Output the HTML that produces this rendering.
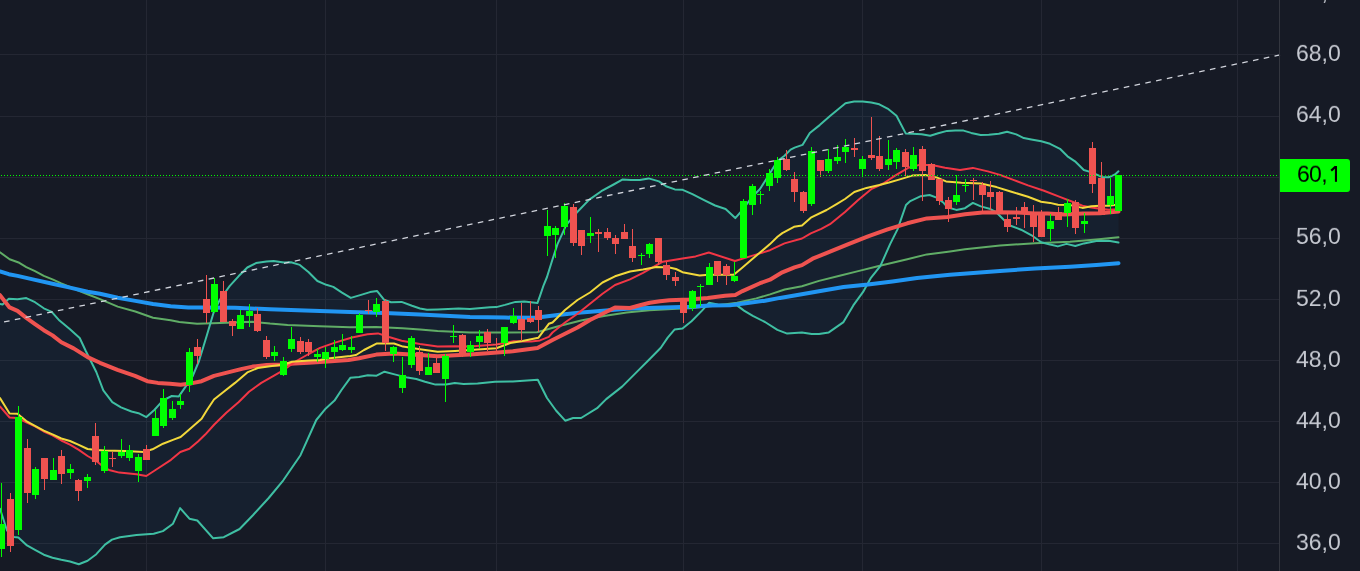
<!DOCTYPE html>
<html><head><meta charset="utf-8"><style>
html,body{margin:0;padding:0;background:#161a25;}
#c{position:relative;width:1360px;height:571px;overflow:hidden;background:#161a25;font-family:"Liberation Sans",sans-serif;}
.lb{will-change:transform;transform:scale(1,0.95);transform-origin:0 0;position:absolute;left:1296px;width:60px;height:26px;line-height:26px;font-size:23px;color:#c6c9d1;white-space:nowrap;}
#pl{position:absolute;left:1280px;top:159px;width:70px;height:33px;background:#00ff00;border-radius:0 3px 3px 0;}
#pl span{will-change:transform;transform:scale(1,0.95);transform-origin:0 0;position:absolute;left:16.8px;top:-0.2px;line-height:33px;font-size:23px;letter-spacing:-0.7px;color:#000;}
</style></head><body><div id="c">
<svg width="1360" height="571" viewBox="0 0 1360 571" style="position:absolute;left:0;top:0">
<rect width="1360" height="571" fill="#161a25"/>
<rect x="0" y="54" width="1279" height="1" fill="#242733"/>
<rect x="0" y="116" width="1279" height="1" fill="#242733"/>
<rect x="0" y="177" width="1279" height="1" fill="#242733"/>
<rect x="0" y="238" width="1279" height="1" fill="#242733"/>
<rect x="0" y="299" width="1279" height="1" fill="#242733"/>
<rect x="0" y="360" width="1279" height="1" fill="#242733"/>
<rect x="0" y="421" width="1279" height="1" fill="#242733"/>
<rect x="0" y="482" width="1279" height="1" fill="#242733"/>
<rect x="0" y="543" width="1279" height="1" fill="#242733"/>
<rect x="146" y="0" width="1" height="571" fill="#242733"/>
<rect x="325" y="0" width="1" height="571" fill="#242733"/>
<rect x="496" y="0" width="1" height="571" fill="#242733"/>
<rect x="683" y="0" width="1" height="571" fill="#242733"/>
<rect x="862" y="0" width="1" height="571" fill="#242733"/>
<rect x="1041" y="0" width="1" height="571" fill="#242733"/>
<rect x="1237" y="0" width="1" height="571" fill="#242733"/>
<polygon points="0.0,303.9 2.6,304.4 8.8,298.7 17.5,299.2 26.3,298.1 35.0,302.2 43.8,308.3 51.7,311.8 59.5,320.6 70.0,329.3 79.7,338.0 85.8,351.0 96.3,372.0 103.3,390.4 112.3,402.2 121.0,407.4 131.5,411.5 138.5,413.2 146.4,417.1 154.3,410.0 163.0,400.4 171.8,396.0 178.8,396.4 185.8,386.4 192.8,375.9 199.0,361.0 206.8,335.5 213.9,311.5 220.0,299.5 229.8,285.9 238.5,276.3 247.3,267.5 256.0,263.1 266.5,261.4 273.6,260.9 284.0,262.6 291.0,262.3 299.8,264.9 308.7,272.2 317.4,281.0 326.3,284.8 333.3,286.9 342.0,292.7 350.8,297.9 361.0,294.9 370.0,292.1 377.0,290.9 384.0,299.7 391.0,302.3 401.6,301.9 412.0,305.8 420.0,308.5 427.0,309.8 437.6,309.4 448.0,308.9 458.6,308.5 470.0,309.0 490.0,307.3 496.3,307.1 505.0,304.9 515.5,301.9 524.3,301.4 537.4,303.1 540.0,295.8 543.6,285.3 547.0,277.0 552.3,260.0 557.5,244.1 566.3,224.8 576.8,212.5 589.0,199.9 601.3,191.2 613.6,184.5 622.3,179.6 631.0,180.1 639.8,180.1 648.6,178.4 659.0,181.4 666.0,186.3 674.8,189.4 682.7,189.8 692.4,194.1 704.6,200.3 715.1,205.5 725.6,209.0 735.3,218.1 742.5,210.0 751.3,197.8 760.0,189.0 768.8,175.0 777.5,161.0 784.5,155.8 790.6,149.6 794.6,147.6 802.5,144.9 809.8,133.0 819.7,125.1 830.3,115.8 838.2,109.2 845.5,103.2 854.1,101.6 862.7,101.5 871.3,102.6 879.3,104.3 888.5,109.2 896.5,115.8 905.7,133.4 912.3,133.7 921.6,134.3 930.2,135.7 938.2,133.2 947.1,130.9 955.3,130.5 963.5,130.6 971.2,132.9 980.6,135.0 988.8,134.7 998.8,133.8 1007.1,131.8 1016.3,134.4 1023.8,138.1 1031.3,139.4 1041.3,141.3 1050.0,143.8 1060.0,148.8 1067.5,156.3 1075.0,161.3 1083.8,170.0 1090.0,171.9 1096.3,174.4 1102.5,177.3 1108.8,177.3 1115.0,174.4 1118.5,171.3 1118.5,242.5 1108.6,240.8 1096.3,241.1 1084.0,243.4 1075.3,246.0 1066.5,243.9 1057.8,246.4 1049.0,244.3 1041.2,242.2 1031.6,235.3 1021.0,229.7 1010.6,225.7 1004.0,220.0 996.5,212.5 989.5,208.7 980.8,206.4 972.9,202.9 965.0,208.2 956.3,209.9 947.5,207.3 943.6,202.8 936.6,197.6 929.6,195.0 920.8,196.2 910.3,201.1 906.0,205.0 897.5,229.4 890.1,244.1 880.3,266.2 870.5,278.4 863.1,291.9 853.3,305.4 843.5,322.1 828.8,332.4 819.0,334.1 811.7,334.1 801.9,332.4 787.2,333.6 777.4,329.9 765.0,322.0 752.8,315.9 744.0,310.6 737.0,305.4 717.8,304.5 709.0,302.8 702.0,310.6 691.5,321.2 682.5,328.5 674.5,329.6 667.7,337.6 660.8,347.8 649.5,359.2 638.1,370.6 622.1,386.6 606.2,399.1 597.1,408.2 581.1,418.0 573.1,418.0 565.2,420.7 556.0,410.5 547.0,398.0 537.8,379.7 512.8,381.5 495.0,381.7 477.6,383.4 463.6,383.9 454.8,383.1 446.0,384.6 435.5,384.6 425.0,381.7 416.3,379.0 407.5,377.6 395.5,374.6 384.5,371.7 376.6,375.7 367.8,375.2 359.0,376.9 350.3,377.8 341.5,390.0 334.5,400.6 325.8,408.4 316.3,420.0 300.5,455.2 283.3,480.3 268.7,498.0 252.9,515.2 239.6,529.0 223.8,537.2 213.2,538.3 197.3,520.5 189.4,518.7 180.1,508.1 173.0,523.7 162.9,531.1 153.7,533.8 136.5,535.1 120.0,537.2 112.0,539.6 105.0,544.6 96.3,554.2 87.6,560.7 78.8,564.3 70.0,561.5 61.3,559.8 52.5,557.7 43.8,554.7 35.0,549.8 27.0,545.4 18.4,537.5 14.0,537.0 7.0,530.5 0.0,508.7" fill="rgba(33,150,243,0.05)"/>
<polyline points="0.0,252.3 9.6,259.3 19.3,262.8 26.3,267.1 35.0,271.2 43.8,275.9 52.5,279.4 61.3,283.4 70.0,286.9 78.8,290.8 87.6,294.3 100.0,299.1 117.7,306.6 135.3,311.5 153.0,317.7 170.6,320.3 179.4,322.1 197.1,323.8 220.0,323.0 252.5,321.8 270.0,323.6 287.6,325.0 320.0,326.2 350.0,327.3 376.3,326.9 402.5,328.2 420.0,329.4 437.6,331.1 470.0,332.5 505.0,332.4 537.0,332.3 558.3,326.2 581.1,320.5 603.9,315.9 626.7,312.5 649.5,310.3 676.8,308.7 690.0,308.2 712.5,305.9 737.0,302.8 756.3,298.4 770.0,294.4 784.7,289.5 801.9,286.3 819.0,280.9 838.6,276.0 858.2,271.1 877.8,266.2 907.3,259.3 926.9,254.4 950.0,251.5 965.0,249.3 1000.0,245.5 1035.0,243.3 1070.0,241.7 1096.3,239.4 1118.5,237.3" fill="none" stroke="#60ad66" stroke-width="2" stroke-linejoin="round" stroke-linecap="round" opacity="1"/>
<polyline points="0.0,303.9 2.6,304.4 8.8,298.7 17.5,299.2 26.3,298.1 35.0,302.2 43.8,308.3 51.7,311.8 59.5,320.6 70.0,329.3 79.7,338.0 85.8,351.0 96.3,372.0 103.3,390.4 112.3,402.2 121.0,407.4 131.5,411.5 138.5,413.2 146.4,417.1 154.3,410.0 163.0,400.4 171.8,396.0 178.8,396.4 185.8,386.4 192.8,375.9 199.0,361.0 206.8,335.5 213.9,311.5 220.0,299.5 229.8,285.9 238.5,276.3 247.3,267.5 256.0,263.1 266.5,261.4 273.6,260.9 284.0,262.6 291.0,262.3 299.8,264.9 308.7,272.2 317.4,281.0 326.3,284.8 333.3,286.9 342.0,292.7 350.8,297.9 361.0,294.9 370.0,292.1 377.0,290.9 384.0,299.7 391.0,302.3 401.6,301.9 412.0,305.8 420.0,308.5 427.0,309.8 437.6,309.4 448.0,308.9 458.6,308.5 470.0,309.0 490.0,307.3 496.3,307.1 505.0,304.9 515.5,301.9 524.3,301.4 537.4,303.1 540.0,295.8 543.6,285.3 547.0,277.0 552.3,260.0 557.5,244.1 566.3,224.8 576.8,212.5 589.0,199.9 601.3,191.2 613.6,184.5 622.3,179.6 631.0,180.1 639.8,180.1 648.6,178.4 659.0,181.4 666.0,186.3 674.8,189.4 682.7,189.8 692.4,194.1 704.6,200.3 715.1,205.5 725.6,209.0 735.3,218.1 742.5,210.0 751.3,197.8 760.0,189.0 768.8,175.0 777.5,161.0 784.5,155.8 790.6,149.6 794.6,147.6 802.5,144.9 809.8,133.0 819.7,125.1 830.3,115.8 838.2,109.2 845.5,103.2 854.1,101.6 862.7,101.5 871.3,102.6 879.3,104.3 888.5,109.2 896.5,115.8 905.7,133.4 912.3,133.7 921.6,134.3 930.2,135.7 938.2,133.2 947.1,130.9 955.3,130.5 963.5,130.6 971.2,132.9 980.6,135.0 988.8,134.7 998.8,133.8 1007.1,131.8 1016.3,134.4 1023.8,138.1 1031.3,139.4 1041.3,141.3 1050.0,143.8 1060.0,148.8 1067.5,156.3 1075.0,161.3 1083.8,170.0 1090.0,171.9 1096.3,174.4 1102.5,177.3 1108.8,177.3 1115.0,174.4 1118.5,171.3" fill="none" stroke="#3fbfa3" stroke-width="2" stroke-linejoin="round" stroke-linecap="round" opacity="1"/>
<polyline points="0.0,508.7 7.0,530.5 14.0,537.0 18.4,537.5 27.0,545.4 35.0,549.8 43.8,554.7 52.5,557.7 61.3,559.8 70.0,561.5 78.8,564.3 87.6,560.7 96.3,554.2 105.0,544.6 112.0,539.6 120.0,537.2 136.5,535.1 153.7,533.8 162.9,531.1 173.0,523.7 180.1,508.1 189.4,518.7 197.3,520.5 213.2,538.3 223.8,537.2 239.6,529.0 252.9,515.2 268.7,498.0 283.3,480.3 300.5,455.2 316.3,420.0 325.8,408.4 334.5,400.6 341.5,390.0 350.3,377.8 359.0,376.9 367.8,375.2 376.6,375.7 384.5,371.7 395.5,374.6 407.5,377.6 416.3,379.0 425.0,381.7 435.5,384.6 446.0,384.6 454.8,383.1 463.6,383.9 477.6,383.4 495.0,381.7 512.8,381.5 537.8,379.7 547.0,398.0 556.0,410.5 565.2,420.7 573.1,418.0 581.1,418.0 597.1,408.2 606.2,399.1 622.1,386.6 638.1,370.6 649.5,359.2 660.8,347.8 667.7,337.6 674.5,329.6 682.5,328.5 691.5,321.2 702.0,310.6 709.0,302.8 717.8,304.5 737.0,305.4 744.0,310.6 752.8,315.9 765.0,322.0 777.4,329.9 787.2,333.6 801.9,332.4 811.7,334.1 819.0,334.1 828.8,332.4 843.5,322.1 853.3,305.4 863.1,291.9 870.5,278.4 880.3,266.2 890.1,244.1 897.5,229.4 906.0,205.0 910.3,201.1 920.8,196.2 929.6,195.0 936.6,197.6 943.6,202.8 947.5,207.3 956.3,209.9 965.0,208.2 972.9,202.9 980.8,206.4 989.5,208.7 996.5,212.5 1004.0,220.0 1010.6,225.7 1021.0,229.7 1031.6,235.3 1041.2,242.2 1049.0,244.3 1057.8,246.4 1066.5,243.9 1075.3,246.0 1084.0,243.4 1096.3,241.1 1108.6,240.8 1118.5,242.5" fill="none" stroke="#3fbfa3" stroke-width="2" stroke-linejoin="round" stroke-linecap="round" opacity="1"/>
<polyline points="0.0,271.5 8.8,274.2 17.5,275.9 35.0,279.9 52.5,283.8 70.0,287.6 87.6,291.7 100.0,293.8 117.7,297.8 135.3,300.9 153.0,304.0 170.6,306.2 188.3,307.5 200.0,307.6 235.0,307.8 270.0,309.2 305.0,310.4 320.0,311.1 350.0,312.0 385.0,312.9 420.0,314.6 470.0,316.9 505.0,317.6 535.6,317.8 557.6,315.0 581.1,312.5 600.0,311.0 626.7,308.7 655.0,307.8 690.0,306.7 710.0,305.5 730.0,305.2 747.6,303.1 765.0,300.7 780.0,297.9 794.5,295.6 819.0,291.2 843.5,287.0 868.0,284.6 892.5,281.4 917.0,277.9 950.0,274.8 1000.0,270.9 1035.0,268.5 1070.0,266.7 1096.3,265.0 1118.5,263.2" fill="none" stroke="#2196f3" stroke-width="4" stroke-linejoin="round" stroke-linecap="round" opacity="1"/>
<polyline points="0.0,295.2 9.6,307.4 17.5,310.9 26.3,317.9 35.0,324.1 43.8,330.2 52.5,335.4 61.3,342.3 73.6,348.4 87.6,357.1 100.0,362.8 117.5,369.8 135.0,375.9 147.3,381.2 157.8,382.9 170.0,383.8 180.6,384.7 191.0,383.4 201.6,381.2 214.0,375.9 228.0,372.4 242.0,368.9 252.5,366.6 266.5,364.9 280.6,364.5 294.6,363.4 308.6,362.8 327.5,361.4 348.5,360.0 359.0,358.2 376.3,354.6 393.8,353.6 420.0,355.0 437.6,356.2 455.0,355.3 470.0,354.4 487.5,353.2 512.8,351.3 537.5,348.0 552.5,340.0 565.0,333.8 577.5,327.5 590.0,320.0 602.5,313.8 615.0,307.5 630.0,308.0 640.0,305.3 649.7,302.8 660.0,301.3 669.4,300.3 689.0,299.4 707.6,297.9 725.0,295.7 735.3,294.9 742.5,291.1 760.0,283.2 770.0,279.7 782.3,272.3 794.5,267.4 802.0,265.1 812.6,258.7 830.0,251.7 848.4,244.1 868.0,236.3 887.6,229.4 907.3,223.3 926.9,218.4 947.5,216.9 965.0,214.3 982.5,212.5 1000.0,212.2 1017.6,212.5 1035.0,213.4 1047.5,213.6 1065.0,214.4 1082.5,213.6 1100.0,213.2 1118.5,211.5" fill="none" stroke="#ef5350" stroke-width="4" stroke-linejoin="round" stroke-linecap="round" opacity="1"/>
<polyline points="0.0,406.5 9.6,417.5 17.5,418.0 26.3,422.4 35.0,426.3 43.8,431.5 52.5,435.3 61.3,440.5 70.0,444.7 78.8,449.9 87.6,456.0 96.3,461.0 105.0,468.0 110.0,470.3 119.3,472.6 136.5,474.2 146.3,476.0 157.8,468.5 171.0,459.8 180.3,452.0 189.4,448.7 198.0,441.4 205.2,434.6 214.3,424.5 226.3,412.7 238.5,402.2 249.0,391.7 261.3,382.9 273.6,375.9 284.0,369.8 296.3,361.0 308.6,354.0 320.0,347.9 335.0,342.6 352.0,337.5 367.5,334.3 378.0,333.4 389.0,337.0 401.6,340.8 420.0,344.0 437.6,346.5 455.0,346.2 470.0,346.5 496.3,344.4 513.8,341.3 531.3,341.6 540.0,340.4 548.8,336.9 552.5,332.5 565.0,322.5 577.5,313.8 590.0,303.8 602.5,293.8 615.0,285.0 630.0,279.4 643.0,272.8 662.8,261.7 682.5,258.4 695.6,256.4 708.8,252.5 735.0,261.0 750.0,256.4 760.0,253.4 770.0,250.2 784.5,243.4 802.0,238.5 810.8,233.3 821.3,228.9 830.0,224.2 845.0,211.9 858.2,200.0 871.8,188.8 883.3,183.5 895.1,175.6 908.2,167.8 918.7,165.1 931.9,165.1 945.0,167.8 960.0,170.0 972.9,167.9 987.8,171.4 1000.0,174.9 1014.0,180.1 1028.0,185.4 1044.0,190.8 1059.8,196.9 1073.8,202.2 1082.5,205.7 1091.3,207.4 1100.0,208.7 1108.8,209.7 1118.5,209.2" fill="none" stroke="#f23645" stroke-width="2" stroke-linejoin="round" stroke-linecap="round" opacity="1"/>
<polyline points="0.0,398.0 9.6,413.5 17.5,413.8 26.3,421.1 35.0,425.8 43.8,430.6 52.5,434.3 61.3,438.5 70.0,441.0 78.8,444.8 87.6,449.0 96.3,450.0 105.0,450.5 125.0,451.0 143.8,451.9 152.5,449.3 163.0,443.7 173.6,439.6 180.6,437.0 187.6,431.0 201.6,418.8 207.0,410.0 214.0,399.5 222.8,392.5 235.0,382.9 247.3,372.4 257.8,368.0 270.0,366.3 284.0,364.5 292.0,361.8 308.6,360.5 320.0,360.0 327.5,358.5 350.3,355.9 356.0,355.0 364.0,350.0 376.5,343.6 394.0,343.5 403.0,346.6 420.0,349.2 437.6,351.8 455.0,350.9 470.0,350.0 496.3,348.3 510.3,343.0 522.5,340.9 538.3,337.8 548.8,323.8 552.5,322.5 565.0,310.0 577.5,300.0 590.0,292.5 602.5,282.5 615.0,276.3 630.0,271.5 643.0,269.5 656.3,267.0 669.4,267.6 676.0,269.0 682.5,272.2 699.6,275.5 708.8,274.8 733.7,274.8 741.6,268.2 750.0,261.0 760.0,252.5 770.0,244.1 777.5,236.8 782.3,233.1 794.0,226.8 802.0,225.5 810.8,217.7 826.6,210.0 837.0,203.9 845.0,199.0 854.3,192.0 866.5,187.9 879.4,185.0 889.0,182.5 899.0,179.6 912.2,175.6 925.3,175.0 936.6,177.4 946.0,181.4 961.5,182.8 980.8,183.6 996.5,187.1 1010.6,191.5 1028.0,196.8 1041.0,201.7 1050.0,202.9 1058.0,204.8 1070.3,205.1 1082.5,207.9 1091.3,206.2 1100.0,205.7 1108.8,205.7 1118.5,204.4" fill="none" stroke="#f2d83b" stroke-width="2" stroke-linejoin="round" stroke-linecap="round" opacity="1"/>
<rect x="1" y="483.0" width="1" height="74.0" fill="#00ff00"/>
<rect x="-2" y="524.0" width="7" height="25.0" fill="#00ff00"/>
<rect x="10" y="493.0" width="1" height="59.0" fill="#ef5350"/>
<rect x="7" y="499.0" width="7" height="47.0" fill="#ef5350"/>
<rect x="18" y="406.0" width="1" height="129.0" fill="#00ff00"/>
<rect x="15" y="417.0" width="7" height="113.0" fill="#00ff00"/>
<rect x="27" y="439.0" width="1" height="64.0" fill="#ef5350"/>
<rect x="24" y="448.0" width="7" height="45.0" fill="#ef5350"/>
<rect x="35" y="467.0" width="1" height="32.0" fill="#00ff00"/>
<rect x="32" y="469.0" width="7" height="26.0" fill="#00ff00"/>
<rect x="44" y="458.0" width="1" height="32.0" fill="#ef5350"/>
<rect x="41" y="458.0" width="7" height="21.0" fill="#ef5350"/>
<rect x="53" y="458.0" width="1" height="22.0" fill="#00ff00"/>
<rect x="50" y="470.0" width="7" height="10.0" fill="#00ff00"/>
<rect x="61" y="450.0" width="1" height="34.0" fill="#ef5350"/>
<rect x="58" y="456.0" width="7" height="18.0" fill="#ef5350"/>
<rect x="70" y="464.0" width="1" height="15.0" fill="#00ff00"/>
<rect x="67" y="469.0" width="7" height="4.0" fill="#00ff00"/>
<rect x="78" y="479.0" width="1" height="22.0" fill="#ef5350"/>
<rect x="75" y="480.0" width="7" height="11.0" fill="#ef5350"/>
<rect x="87" y="474.0" width="1" height="14.0" fill="#00ff00"/>
<rect x="84" y="477.0" width="7" height="4.0" fill="#00ff00"/>
<rect x="95" y="423.0" width="1" height="42.0" fill="#ef5350"/>
<rect x="92" y="436.0" width="7" height="26.0" fill="#ef5350"/>
<rect x="104" y="446.0" width="1" height="27.0" fill="#00ff00"/>
<rect x="101" y="451.0" width="7" height="20.0" fill="#00ff00"/>
<rect x="112" y="452.0" width="1" height="15.0" fill="#ef5350"/>
<rect x="109" y="458.0" width="7" height="1" fill="#ef5350"/>
<rect x="121" y="439.0" width="1" height="19.0" fill="#00ff00"/>
<rect x="118" y="452.0" width="7" height="4.0" fill="#00ff00"/>
<rect x="129" y="445.0" width="1" height="16.0" fill="#00ff00"/>
<rect x="126" y="450.0" width="7" height="8.0" fill="#00ff00"/>
<rect x="138" y="454.0" width="1" height="28.0" fill="#00ff00"/>
<rect x="135" y="457.0" width="7" height="14.0" fill="#00ff00"/>
<rect x="146" y="445.0" width="1" height="15.0" fill="#ef5350"/>
<rect x="143" y="449.0" width="7" height="11.0" fill="#ef5350"/>
<rect x="155" y="410.0" width="1" height="26.0" fill="#00ff00"/>
<rect x="152" y="418.0" width="7" height="18.0" fill="#00ff00"/>
<rect x="163" y="389.0" width="1" height="39.0" fill="#00ff00"/>
<rect x="160" y="398.0" width="7" height="28.0" fill="#00ff00"/>
<rect x="172" y="401.0" width="1" height="19.0" fill="#00ff00"/>
<rect x="169" y="409.0" width="7" height="9.0" fill="#00ff00"/>
<rect x="180" y="394.0" width="1" height="15.0" fill="#00ff00"/>
<rect x="177" y="401.0" width="7" height="4.0" fill="#00ff00"/>
<rect x="189" y="348.0" width="1" height="44.0" fill="#00ff00"/>
<rect x="186" y="352.0" width="7" height="33.0" fill="#00ff00"/>
<rect x="197" y="339.0" width="1" height="25.0" fill="#ef5350"/>
<rect x="194" y="347.0" width="7" height="9.0" fill="#ef5350"/>
<rect x="206" y="275.0" width="1" height="48.0" fill="#ef5350"/>
<rect x="203" y="299.0" width="7" height="14.0" fill="#ef5350"/>
<rect x="214" y="278.0" width="1" height="35.0" fill="#00ff00"/>
<rect x="211" y="284.0" width="7" height="28.0" fill="#00ff00"/>
<rect x="223" y="281.0" width="1" height="41.0" fill="#ef5350"/>
<rect x="220" y="291.0" width="7" height="31.0" fill="#ef5350"/>
<rect x="232" y="319.0" width="1" height="17.0" fill="#ef5350"/>
<rect x="229" y="321.0" width="7" height="5.0" fill="#ef5350"/>
<rect x="240" y="310.0" width="1" height="19.0" fill="#00ff00"/>
<rect x="237" y="315.0" width="7" height="14.0" fill="#00ff00"/>
<rect x="249" y="304.0" width="1" height="23.0" fill="#00ff00"/>
<rect x="246" y="311.0" width="7" height="5.0" fill="#00ff00"/>
<rect x="257" y="308.0" width="1" height="24.0" fill="#ef5350"/>
<rect x="254" y="314.0" width="7" height="17.0" fill="#ef5350"/>
<rect x="266" y="336.0" width="1" height="23.0" fill="#ef5350"/>
<rect x="263" y="340.0" width="7" height="17.0" fill="#ef5350"/>
<rect x="274" y="346.0" width="1" height="15.0" fill="#00ff00"/>
<rect x="271" y="352.0" width="7" height="4.0" fill="#00ff00"/>
<rect x="283" y="357.0" width="1" height="19.0" fill="#00ff00"/>
<rect x="280" y="361.0" width="7" height="14.0" fill="#00ff00"/>
<rect x="291" y="327.0" width="1" height="25.0" fill="#00ff00"/>
<rect x="288" y="339.0" width="7" height="10.0" fill="#00ff00"/>
<rect x="300" y="337.0" width="1" height="17.0" fill="#ef5350"/>
<rect x="297" y="341.0" width="7" height="11.0" fill="#ef5350"/>
<rect x="308" y="339.0" width="1" height="17.0" fill="#ef5350"/>
<rect x="305" y="342.0" width="7" height="10.0" fill="#ef5350"/>
<rect x="317" y="349.0" width="1" height="13.0" fill="#00ff00"/>
<rect x="314" y="354.0" width="7" height="3.0" fill="#00ff00"/>
<rect x="325" y="347.0" width="1" height="21.0" fill="#00ff00"/>
<rect x="322" y="352.0" width="7" height="7.0" fill="#00ff00"/>
<rect x="334" y="340.0" width="1" height="19.0" fill="#00ff00"/>
<rect x="331" y="347.0" width="7" height="5.0" fill="#00ff00"/>
<rect x="342" y="334.0" width="1" height="17.0" fill="#00ff00"/>
<rect x="339" y="345.0" width="7" height="5.0" fill="#00ff00"/>
<rect x="351" y="336.0" width="1" height="17.0" fill="#00ff00"/>
<rect x="348" y="347.0" width="7" height="3.0" fill="#00ff00"/>
<rect x="359" y="313.0" width="1" height="20.0" fill="#00ff00"/>
<rect x="356" y="315.0" width="7" height="18.0" fill="#00ff00"/>
<rect x="368" y="300.0" width="1" height="14.0" fill="#ef5350"/>
<rect x="365" y="310.0" width="7" height="1" fill="#ef5350"/>
<rect x="376" y="298.0" width="1" height="19.0" fill="#00ff00"/>
<rect x="373" y="304.0" width="7" height="8.0" fill="#00ff00"/>
<rect x="385" y="299.0" width="1" height="52.0" fill="#ef5350"/>
<rect x="382" y="301.0" width="7" height="42.0" fill="#ef5350"/>
<rect x="393" y="346.0" width="1" height="16.0" fill="#00ff00"/>
<rect x="390" y="347.0" width="7" height="7.0" fill="#00ff00"/>
<rect x="411" y="336.0" width="1" height="32.0" fill="#00ff00"/>
<rect x="408" y="338.0" width="7" height="27.0" fill="#00ff00"/>
<rect x="419" y="346.0" width="1" height="29.0" fill="#ef5350"/>
<rect x="416" y="352.0" width="7" height="19.0" fill="#ef5350"/>
<rect x="436" y="357.0" width="1" height="16.0" fill="#ef5350"/>
<rect x="433" y="363.0" width="7" height="10.0" fill="#ef5350"/>
<rect x="453" y="325.0" width="1" height="18.0" fill="#00ff00"/>
<rect x="450" y="336.0" width="7" height="1" fill="#00ff00"/>
<rect x="462" y="334.0" width="1" height="23.0" fill="#ef5350"/>
<rect x="459" y="335.0" width="7" height="20.0" fill="#ef5350"/>
<rect x="402" y="357.0" width="1" height="36.0" fill="#00ff00"/>
<rect x="399" y="375.0" width="7" height="13.0" fill="#00ff00"/>
<rect x="428" y="353.0" width="1" height="22.0" fill="#00ff00"/>
<rect x="425" y="367.0" width="7" height="8.0" fill="#00ff00"/>
<rect x="445" y="354.0" width="1" height="48.0" fill="#00ff00"/>
<rect x="442" y="356.0" width="7" height="23.0" fill="#00ff00"/>
<rect x="470" y="341.0" width="1" height="16.0" fill="#00ff00"/>
<rect x="467" y="345.0" width="7" height="7.0" fill="#00ff00"/>
<rect x="479" y="330.0" width="1" height="18.0" fill="#00ff00"/>
<rect x="476" y="336.0" width="7" height="6.0" fill="#00ff00"/>
<rect x="487" y="329.0" width="1" height="22.0" fill="#ef5350"/>
<rect x="484" y="332.0" width="7" height="11.0" fill="#ef5350"/>
<rect x="496" y="338.0" width="1" height="14.0" fill="#ef5350"/>
<rect x="493" y="344.0" width="7" height="1" fill="#ef5350"/>
<rect x="504" y="327.0" width="1" height="29.0" fill="#00ff00"/>
<rect x="501" y="327.0" width="7" height="16.0" fill="#00ff00"/>
<rect x="513" y="308.0" width="1" height="16.0" fill="#00ff00"/>
<rect x="510" y="316.0" width="7" height="7.0" fill="#00ff00"/>
<rect x="521" y="303.0" width="1" height="38.0" fill="#ef5350"/>
<rect x="518" y="319.0" width="7" height="11.0" fill="#ef5350"/>
<rect x="530" y="301.0" width="1" height="22.0" fill="#ef5350"/>
<rect x="527" y="318.0" width="7" height="4.0" fill="#ef5350"/>
<rect x="538" y="306.0" width="1" height="26.0" fill="#ef5350"/>
<rect x="535" y="310.0" width="7" height="10.0" fill="#ef5350"/>
<rect x="547" y="210.0" width="1" height="46.0" fill="#00ff00"/>
<rect x="544" y="226.0" width="7" height="10.0" fill="#00ff00"/>
<rect x="555" y="226.0" width="1" height="32.0" fill="#00ff00"/>
<rect x="552" y="228.0" width="7" height="7.0" fill="#00ff00"/>
<rect x="564" y="203.0" width="1" height="32.0" fill="#00ff00"/>
<rect x="561" y="206.0" width="7" height="21.0" fill="#00ff00"/>
<rect x="573" y="204.0" width="1" height="42.0" fill="#ef5350"/>
<rect x="570" y="207.0" width="7" height="36.0" fill="#ef5350"/>
<rect x="581" y="230.0" width="1" height="25.0" fill="#ef5350"/>
<rect x="578" y="230.0" width="7" height="16.0" fill="#ef5350"/>
<rect x="590" y="217.0" width="1" height="26.0" fill="#00ff00"/>
<rect x="587" y="233.0" width="7" height="3.0" fill="#00ff00"/>
<rect x="598" y="229.0" width="1" height="23.0" fill="#ef5350"/>
<rect x="595" y="232.0" width="7" height="2.0" fill="#ef5350"/>
<rect x="607" y="228.0" width="1" height="12.0" fill="#ef5350"/>
<rect x="604" y="232.0" width="7" height="6.0" fill="#ef5350"/>
<rect x="615" y="235.0" width="1" height="19.0" fill="#ef5350"/>
<rect x="612" y="238.0" width="7" height="6.0" fill="#ef5350"/>
<rect x="624" y="224.0" width="1" height="15.0" fill="#ef5350"/>
<rect x="621" y="232.0" width="7" height="7.0" fill="#ef5350"/>
<rect x="632" y="229.0" width="1" height="33.0" fill="#ef5350"/>
<rect x="629" y="246.0" width="7" height="12.0" fill="#ef5350"/>
<rect x="641" y="253.0" width="1" height="12.0" fill="#00ff00"/>
<rect x="638" y="255.0" width="7" height="1" fill="#00ff00"/>
<rect x="649" y="243.0" width="1" height="15.0" fill="#00ff00"/>
<rect x="646" y="244.0" width="7" height="10.0" fill="#00ff00"/>
<rect x="658" y="238.0" width="1" height="27.0" fill="#ef5350"/>
<rect x="655" y="238.0" width="7" height="24.0" fill="#ef5350"/>
<rect x="666" y="262.0" width="1" height="18.0" fill="#ef5350"/>
<rect x="663" y="265.0" width="7" height="10.0" fill="#ef5350"/>
<rect x="675" y="272.0" width="1" height="14.0" fill="#ef5350"/>
<rect x="672" y="277.0" width="7" height="4.0" fill="#ef5350"/>
<rect x="692" y="290.0" width="1" height="21.0" fill="#00ff00"/>
<rect x="689" y="291.0" width="7" height="17.0" fill="#00ff00"/>
<rect x="700" y="284.0" width="1" height="22.0" fill="#00ff00"/>
<rect x="697" y="286.0" width="7" height="1" fill="#00ff00"/>
<rect x="709" y="263.0" width="1" height="22.0" fill="#00ff00"/>
<rect x="706" y="267.0" width="7" height="18.0" fill="#00ff00"/>
<rect x="717" y="261.0" width="1" height="21.0" fill="#ef5350"/>
<rect x="714" y="261.0" width="7" height="14.0" fill="#ef5350"/>
<rect x="726" y="264.0" width="1" height="21.0" fill="#ef5350"/>
<rect x="723" y="266.0" width="7" height="9.0" fill="#ef5350"/>
<rect x="734" y="262.0" width="1" height="20.0" fill="#00ff00"/>
<rect x="731" y="276.0" width="7" height="5.0" fill="#00ff00"/>
<rect x="683" y="298.0" width="1" height="25.0" fill="#ef5350"/>
<rect x="680" y="298.0" width="7" height="15.0" fill="#ef5350"/>
<rect x="752" y="184.0" width="1" height="31.0" fill="#00ff00"/>
<rect x="749" y="186.0" width="7" height="19.0" fill="#00ff00"/>
<rect x="760" y="191.0" width="1" height="13.0" fill="#00ff00"/>
<rect x="757" y="194.0" width="7" height="1" fill="#00ff00"/>
<rect x="769" y="169.0" width="1" height="22.0" fill="#00ff00"/>
<rect x="766" y="173.0" width="7" height="13.0" fill="#00ff00"/>
<rect x="777" y="157.0" width="1" height="26.0" fill="#00ff00"/>
<rect x="774" y="160.0" width="7" height="18.0" fill="#00ff00"/>
<rect x="786" y="150.0" width="1" height="21.0" fill="#ef5350"/>
<rect x="783" y="159.0" width="7" height="11.0" fill="#ef5350"/>
<rect x="794" y="172.0" width="1" height="30.0" fill="#ef5350"/>
<rect x="791" y="179.0" width="7" height="13.0" fill="#ef5350"/>
<rect x="803" y="191.0" width="1" height="22.0" fill="#ef5350"/>
<rect x="800" y="192.0" width="7" height="19.0" fill="#ef5350"/>
<rect x="811" y="147.0" width="1" height="59.0" fill="#00ff00"/>
<rect x="808" y="151.0" width="7" height="53.0" fill="#00ff00"/>
<rect x="820" y="160.0" width="1" height="17.0" fill="#ef5350"/>
<rect x="817" y="160.0" width="7" height="11.0" fill="#ef5350"/>
<rect x="828" y="149.0" width="1" height="24.0" fill="#00ff00"/>
<rect x="825" y="159.0" width="7" height="12.0" fill="#00ff00"/>
<rect x="837" y="145.0" width="1" height="19.0" fill="#00ff00"/>
<rect x="834" y="157.0" width="7" height="4.0" fill="#00ff00"/>
<rect x="743" y="199.0" width="1" height="59.0" fill="#00ff00"/>
<rect x="740" y="201.0" width="7" height="57.0" fill="#00ff00"/>
<rect x="845" y="139.0" width="1" height="24.0" fill="#00ff00"/>
<rect x="842" y="147.0" width="7" height="5.0" fill="#00ff00"/>
<rect x="854" y="138.0" width="1" height="19.0" fill="#ef5350"/>
<rect x="851" y="148.0" width="7" height="2.0" fill="#ef5350"/>
<rect x="862" y="156.0" width="1" height="21.0" fill="#00ff00"/>
<rect x="859" y="159.0" width="7" height="10.0" fill="#00ff00"/>
<rect x="871" y="117.0" width="1" height="43.0" fill="#ef5350"/>
<rect x="868" y="155.0" width="7" height="3.0" fill="#ef5350"/>
<rect x="879" y="136.0" width="1" height="35.0" fill="#ef5350"/>
<rect x="876" y="156.0" width="7" height="13.0" fill="#ef5350"/>
<rect x="888" y="140.0" width="1" height="30.0" fill="#00ff00"/>
<rect x="885" y="159.0" width="7" height="6.0" fill="#00ff00"/>
<rect x="896" y="148.0" width="1" height="21.0" fill="#00ff00"/>
<rect x="893" y="150.0" width="7" height="12.0" fill="#00ff00"/>
<rect x="905" y="149.0" width="1" height="27.0" fill="#ef5350"/>
<rect x="902" y="152.0" width="7" height="15.0" fill="#ef5350"/>
<rect x="913" y="147.0" width="1" height="24.0" fill="#00ff00"/>
<rect x="910" y="155.0" width="7" height="14.0" fill="#00ff00"/>
<rect x="922" y="146.0" width="1" height="55.0" fill="#ef5350"/>
<rect x="919" y="149.0" width="7" height="22.0" fill="#ef5350"/>
<rect x="931" y="163.0" width="1" height="17.0" fill="#ef5350"/>
<rect x="928" y="164.0" width="7" height="16.0" fill="#ef5350"/>
<rect x="939" y="179.0" width="1" height="26.0" fill="#ef5350"/>
<rect x="936" y="179.0" width="7" height="22.0" fill="#ef5350"/>
<rect x="948" y="197.0" width="1" height="25.0" fill="#ef5350"/>
<rect x="945" y="200.0" width="7" height="9.0" fill="#ef5350"/>
<rect x="956" y="175.0" width="1" height="30.0" fill="#00ff00"/>
<rect x="953" y="195.0" width="7" height="7.0" fill="#00ff00"/>
<rect x="965" y="179.0" width="1" height="13.0" fill="#00ff00"/>
<rect x="962" y="185.0" width="7" height="1" fill="#00ff00"/>
<rect x="973" y="178.0" width="1" height="22.0" fill="#ef5350"/>
<rect x="970" y="180.0" width="7" height="1" fill="#ef5350"/>
<rect x="982" y="182.0" width="1" height="29.0" fill="#ef5350"/>
<rect x="979" y="185.0" width="7" height="10.0" fill="#ef5350"/>
<rect x="990" y="181.0" width="1" height="29.0" fill="#ef5350"/>
<rect x="987" y="192.0" width="7" height="5.0" fill="#ef5350"/>
<rect x="999" y="191.0" width="1" height="22.0" fill="#ef5350"/>
<rect x="996" y="192.0" width="7" height="21.0" fill="#ef5350"/>
<rect x="1007" y="214.0" width="1" height="18.0" fill="#ef5350"/>
<rect x="1004" y="219.0" width="7" height="8.0" fill="#ef5350"/>
<rect x="1016" y="207.0" width="1" height="18.0" fill="#ef5350"/>
<rect x="1013" y="217.0" width="7" height="2.0" fill="#ef5350"/>
<rect x="1024" y="202.0" width="1" height="26.0" fill="#ef5350"/>
<rect x="1021" y="207.0" width="7" height="5.0" fill="#ef5350"/>
<rect x="1033" y="205.0" width="1" height="37.0" fill="#ef5350"/>
<rect x="1030" y="212.0" width="7" height="15.0" fill="#ef5350"/>
<rect x="1041" y="210.0" width="1" height="27.0" fill="#ef5350"/>
<rect x="1038" y="212.0" width="7" height="25.0" fill="#ef5350"/>
<rect x="1050" y="214.0" width="1" height="27.0" fill="#00ff00"/>
<rect x="1047" y="221.0" width="7" height="8.0" fill="#00ff00"/>
<rect x="1058" y="207.0" width="1" height="13.0" fill="#ef5350"/>
<rect x="1055" y="212.0" width="7" height="8.0" fill="#ef5350"/>
<rect x="1067" y="199.0" width="1" height="28.0" fill="#00ff00"/>
<rect x="1064" y="203.0" width="7" height="10.0" fill="#00ff00"/>
<rect x="1075" y="200.0" width="1" height="34.0" fill="#ef5350"/>
<rect x="1072" y="202.0" width="7" height="26.0" fill="#ef5350"/>
<rect x="1084" y="213.0" width="1" height="20.0" fill="#00ff00"/>
<rect x="1081" y="221.0" width="7" height="3.0" fill="#00ff00"/>
<rect x="1092" y="142.0" width="1" height="51.0" fill="#ef5350"/>
<rect x="1089" y="148.0" width="7" height="36.0" fill="#ef5350"/>
<rect x="1101" y="162.0" width="1" height="53.0" fill="#ef5350"/>
<rect x="1098" y="178.0" width="7" height="37.0" fill="#ef5350"/>
<rect x="1110" y="178.0" width="1" height="36.0" fill="#00ff00"/>
<rect x="1107" y="196.0" width="7" height="9.0" fill="#00ff00"/>
<rect x="1118" y="175.0" width="1" height="36.0" fill="#00ff00"/>
<rect x="1115" y="175.0" width="7" height="36.0" fill="#00ff00"/>
<line x1="1" y1="175.5" x2="1279" y2="175.5" stroke="#00ff00" stroke-width="1" stroke-dasharray="1 2"/>
<line x1="0" y1="322.8" x2="1280" y2="54.90" stroke="#d1d4dc" stroke-width="1.3" stroke-dasharray="5.6 5.4" stroke-dashoffset="6.86"/>
<rect x="1279" y="0" width="1" height="571" fill="#33363f"/>
</svg>
<div class="lb" style="top:-20.25px">72,0</div>
<div class="lb" style="top:40.90px">68,0</div>
<div class="lb" style="top:102.05px">64,0</div>
<div class="lb" style="top:224.35px">56,0</div>
<div class="lb" style="top:285.50px">52,0</div>
<div class="lb" style="top:346.65px">48,0</div>
<div class="lb" style="top:407.80px">44,0</div>
<div class="lb" style="top:468.95px">40,0</div>
<div class="lb" style="top:530.10px">36,0</div>
<div id="pl"><span>60,</span><svg width="70" height="33" style="position:absolute;left:0;top:0"><rect x="54.9" y="7" width="2.1" height="15.8" fill="#000"/><line x1="55.6" y1="7.6" x2="51.2" y2="11.6" stroke="#000" stroke-width="2.1"/></svg></div>
</div></body></html>
